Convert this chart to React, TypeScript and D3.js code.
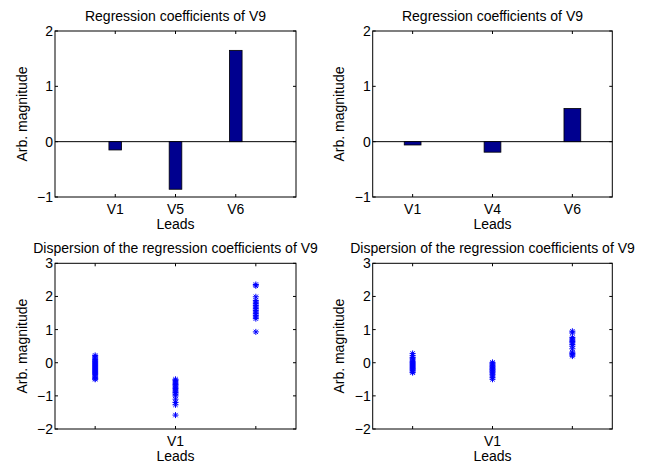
import React from "react";
import * as d3 from "d3";

const W = 663;
const H = 466;

// Top-left bar chart
const leadsTL = ["V1", "V5", "V6"];
const coefTL = [-0.15, -0.86, 1.65];
// Top-right bar chart
const leadsTR = ["V1", "V4", "V6"];
const coefTR = [-0.06, -0.19, 0.6];

const barTicks = [-1, 0, 1, 2];
const dispTicks = [-2, -1, 0, 1, 2, 3];
const dispXLabels = ["", "V1", ""];

// Bottom-left dispersion (3 columns)
const dispBL1 = [0.22, 0.18, 0.14, 0.1, 0.06, 0.03, 0.0, -0.03, -0.06, -0.09, -0.12, -0.15, -0.18, -0.21, -0.24, -0.27, -0.3, -0.33, -0.36, -0.4, -0.44, -0.48, -0.5];
const dispBL2 = [-0.5, -0.54, -0.58, -0.62, -0.66, -0.7, -0.74, -0.78, -0.82, -0.86, -0.9, -0.95, -1.0, -1.1, -1.2, -1.27, -1.58];
const dispBL3 = [0.93, 1.33, 1.38, 1.43, 1.48, 1.53, 1.58, 1.63, 1.68, 1.73, 1.78, 1.83, 1.88, 1.99, 2.32, 2.36];
// Bottom-right dispersion
const dispBR1 = [0.28, 0.22, 0.16, 0.12, 0.08, 0.04, 0.01, -0.02, -0.05, -0.08, -0.11, -0.14, -0.17, -0.2, -0.24, -0.28, -0.3];
const dispBR2 = [0.01, -0.03, -0.07, -0.1, -0.13, -0.16, -0.19, -0.22, -0.25, -0.28, -0.31, -0.35, -0.4, -0.45, -0.5];
const dispBR3 = [0.2, 0.24, 0.28, 0.32, 0.42, 0.5, 0.55, 0.6, 0.64, 0.68, 0.72, 0.76, 0.9, 0.95];

const titleBar = "Regression coefficients of V9";
const titleDisp = "Dispersion of the regression coefficients of V9";
const yLabel = "Arb. magnitude";
const xLabel = "Leads";

const FONT = "'Liberation Sans', Arial, Helvetica, sans-serif";
const FS = 14;
const TICK = 3;

type Box = { x0: number; x1: number; y0: number; y1: number };

const boxTL: Box = { x0: 55, x1: 296, y0: 31, y1: 197 };
const boxTR: Box = { x0: 372.7, x1: 612.3, y0: 31, y1: 197 };
const boxBL: Box = { x0: 55, x1: 296, y0: 263.3, y1: 429 };
const boxBR: Box = { x0: 372.7, x1: 612.3, y0: 263.3, y1: 429 };

const fmt = (v: number) => (v < 0 ? "\u2212" + Math.abs(v) : String(v));

function asterisk(r: number) {
  const d = r * 0.72;
  return `M${-r},0L${r},0M0,${-r}L0,${r}M${-d},${-d}L${d},${d}M${-d},${d}L${d},${-d}`;
}

function Frame({
  box,
  x,
  y,
  xTickVals,
  xTickLabels,
  yTickVals,
  title,
}: {
  box: Box;
  x: d3.ScaleLinear<number, number>;
  y: d3.ScaleLinear<number, number>;
  xTickVals: number[];
  xTickLabels: string[];
  yTickVals: number[];
  title: string;
}) {
  const cx = (box.x0 + box.x1) / 2;
  const cy = (box.y0 + box.y1) / 2;
  return (
    <g fontFamily={FONT} fontSize={FS} fill="#000">
      <rect x={box.x0} y={box.y0} width={box.x1 - box.x0} height={box.y1 - box.y0} fill="none" stroke="#000" strokeWidth={1} />
      {yTickVals.map((v) => (
        <g key={"y" + v}>
          <line x1={box.x0} x2={box.x0 + TICK} y1={y(v)} y2={y(v)} stroke="#000" />
          <line x1={box.x1} x2={box.x1 - TICK} y1={y(v)} y2={y(v)} stroke="#000" />
          <text x={box.x0 - 2} y={y(v)} dy="0.36em" textAnchor="end">
            {fmt(v)}
          </text>
        </g>
      ))}
      {xTickVals.map((v, i) => (
        <g key={"x" + v}>
          <line x1={x(v)} x2={x(v)} y1={box.y1} y2={box.y1 - TICK} stroke="#000" />
          <line x1={x(v)} x2={x(v)} y1={box.y0} y2={box.y0 + TICK} stroke="#000" />
          <text x={x(v)} y={box.y1 + 17} textAnchor="middle">
            {xTickLabels[i]}
          </text>
        </g>
      ))}
      <text x={cx} y={box.y0 - 10.5} textAnchor="middle">
        {title}
      </text>
      <text x={cx} y={box.y1 + 32} textAnchor="middle">
        {xLabel}
      </text>
      <text transform={`translate(${box.x0 - 28.5},${cy}) rotate(-90)`} textAnchor="middle">
        {yLabel}
      </text>
    </g>
  );
}

function BarPanel({ box, leads, values, xDomain }: { box: Box; leads: string[]; values: number[]; xDomain: [number, number] }) {
  const x = d3.scaleLinear().domain(xDomain).range([box.x0, box.x1]);
  const y = d3.scaleLinear().domain([-1, 2]).range([box.y1, box.y0]);
  const bw = 0.21;
  const pos = leads.map((_, i) => i + 1);
  return (
    <g>
      <line x1={box.x0} x2={box.x1} y1={y(0)} y2={y(0)} stroke="#000" />
      {values.map((v, i) => (
        <rect
          key={i}
          x={x(pos[i] - bw / 2)}
          width={x(pos[i] + bw / 2) - x(pos[i] - bw / 2)}
          y={Math.min(y(v), y(0))}
          height={Math.abs(y(v) - y(0))}
          fill="#00008f"
          stroke="#000"
          strokeWidth={0.8}
        />
      ))}
      <Frame box={box} x={x} y={y} xTickVals={pos} xTickLabels={leads} yTickVals={barTicks} title={titleBar} />
    </g>
  );
}

function DispPanel({ box, cols }: { box: Box; cols: number[][] }) {
  const x = d3.scaleLinear().domain([0.5, 3.5]).range([box.x0, box.x1]);
  const y = d3.scaleLinear().domain([-2, 3]).range([box.y1, box.y0]);
  const star = asterisk(3);
  return (
    <g>
      {cols.map((col, ci) =>
        col.map((v, i) => (
          <path key={ci + "-" + i} d={star} transform={`translate(${x(ci + 1)},${y(v)})`} stroke="#0000ff" strokeWidth={1} fill="none" />
        ))
      )}
      <Frame box={box} x={x} y={y} xTickVals={[1, 2, 3]} xTickLabels={dispXLabels} yTickVals={dispTicks} title={titleDisp} />
    </g>
  );
}

export default function App() {
  return (
    <div style={{ position: "absolute", left: 0, top: 0 }}>
      <svg width={W} height={H} style={{ display: "block", background: "#fff" }}>
        <rect width={W} height={H} fill="#fff" />
        <BarPanel box={boxTL} leads={leadsTL} values={coefTL} xDomain={[0, 4]} />
        <BarPanel box={boxTR} leads={leadsTR} values={coefTR} xDomain={[0.5, 3.5]} />
        <DispPanel box={boxBL} cols={[dispBL1, dispBL2, dispBL3]} />
        <DispPanel box={boxBR} cols={[dispBR1, dispBR2, dispBR3]} />
      </svg>
    </div>
  );
}
